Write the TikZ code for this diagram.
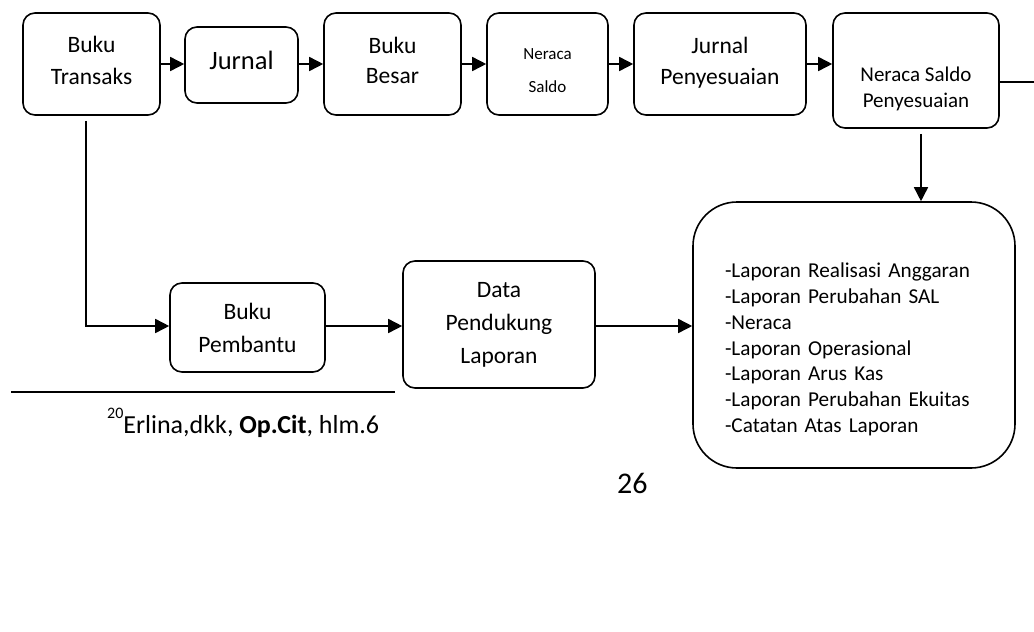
\documentclass[tikz,border=0pt]{standalone}
\usepackage{fontspec}
\setmainfont{Carlito}
\usetikzlibrary{arrows.meta}
\newcommand{\fsz}[2]{\fontsize{#1}{#2}\selectfont}
% line struts: cap height 0.632em, fixed depth 0.25em
\newcommand{\strN}{\rule[-0.25em]{0pt}{0.882em}}
\newcommand{\strT}[1]{\rule[-0.25em]{0pt}{\dimexpr0.882em+#1\relax}}
\newcommand{\strB}[1]{\rule[\dimexpr-0.25em-#1\relax]{0pt}{\dimexpr0.882em+#1\relax}}
\tikzset{
  box/.style={draw, line width=1.6pt, rounded corners=12pt, align=center, inner sep=0pt},
  arr/.style={line width=1.6pt, -{Triangle[length=14pt,width=14pt]}},
  ln/.style={line width=1.6pt}
}
\begin{document}
\begin{tikzpicture}[x=1pt, y=-1pt]
\useasboundingbox[fill=white] (0,0) rectangle (1034,632);
% top row
\node[box, minimum width=137pt, minimum height=102pt, font=\fsz{23.5}{32}] (bt) at (91.5,64) {\strN Buku\\\strB{2pt}Transaks};
\node[box, minimum width=113pt, minimum height=76pt, font=\fsz{26.5}{32}] (jur) at (241.5,65) {\strB{3pt}Jurnal};
\node[box, minimum width=137pt, minimum height=102pt, font=\fsz{23.5}{30}] (bb) at (392.5,64) {\strN Buku\\\strB{2pt}Besar};
\node[box, minimum width=121pt, minimum height=102pt, font=\fsz{17}{33}] (ns) at (547.5,64) {\strT{17pt}Neraca\\\strN Saldo};
\node[box, minimum width=172pt, minimum height=102pt, font=\fsz{23.5}{31}] (jp) at (720,64) {\strN Jurnal\\\strB{1pt}Penyesuaian};
\node[box, minimum width=166pt, minimum height=115pt, font=\fsz{21}{26}] (nsp) at (916,70.5) {\strT{39pt}Neraca Saldo\\\strN Penyesuaian};
% bottom row
\node[box, minimum width=155pt, minimum height=89pt, font=\fsz{23.5}{33}] (bp) at (247.5,327.5) {\strT{8pt}Buku\\\strN Pembantu};
\node[box, minimum width=192pt, minimum height=127pt, font=\fsz{23.5}{33}] (dpl) at (499,324.5) {\strT{4pt}Data\\\strN Pendukung\\\strN Laporan};
\node[box, rounded corners=44pt, align=left, inner xsep=32pt, inner ysep=0pt, text width=258pt, minimum width=322pt, minimum height=266pt, font=\fsz{21.2}{25.9}] (lap) at (854,335)
  {\noindent\strT{32pt}-Laporan Realisasi Anggaran\\
   \strN-Laporan Perubahan SAL\\
   \strN-Neraca\\
   \strN-Laporan Operasional\\
   \strN-Laporan Arus Kas\\
   \strN-Laporan Perubahan Ekuitas\\
   \strN-Catatan Atas Laporan};
% top row connectors
\draw[arr] (bt.east) -- (bt.east -| jur.west);
\draw[arr] (jur.east |- bb.west) -- (bb.west);
\draw[arr] (bb.east) -- (ns.west);
\draw[arr] (ns.east) -- (jp.west);
\draw[arr] (jp.east) -- (jp.east -| nsp.west);
\coordinate (rt) at (1034,82);
\draw[ln] (rt -| nsp.east) -- (rt);
\coordinate (dv) at (921,0);
\coordinate (d1) at (dv |- nsp.south);
\draw[arr] ([yshift=-5pt]d1) -- (dv |- lap.north);
% left branch and bottom row connectors
\coordinate (row) at (86,326);
\coordinate (b1) at (row |- bt.south);
\draw[arr] ([yshift=-5pt]b1) -- (row) -- (row -| bp.west);
\draw[arr] (row -| bp.east) -- (row -| dpl.west);
\draw[arr] (row -| dpl.east) -- (row -| lap.west);
% footnote
\coordinate (f1) at (11,392);
\coordinate (f2) at (395,392);
\draw[ln] (f1) -- (f2);
\node[anchor=base west, inner sep=0pt, font=\fsz{26}{30}] (fn) at (107,433) {\raisebox{15pt}{\fsz{16}{16}20}Erlina,dkk, \textbf{Op.Cit}, hlm.6};
\node[anchor=base west, inner sep=0pt, font=\fsz{30}{34}] (pg) at (617,493) {26};
\end{tikzpicture}
\end{document}
